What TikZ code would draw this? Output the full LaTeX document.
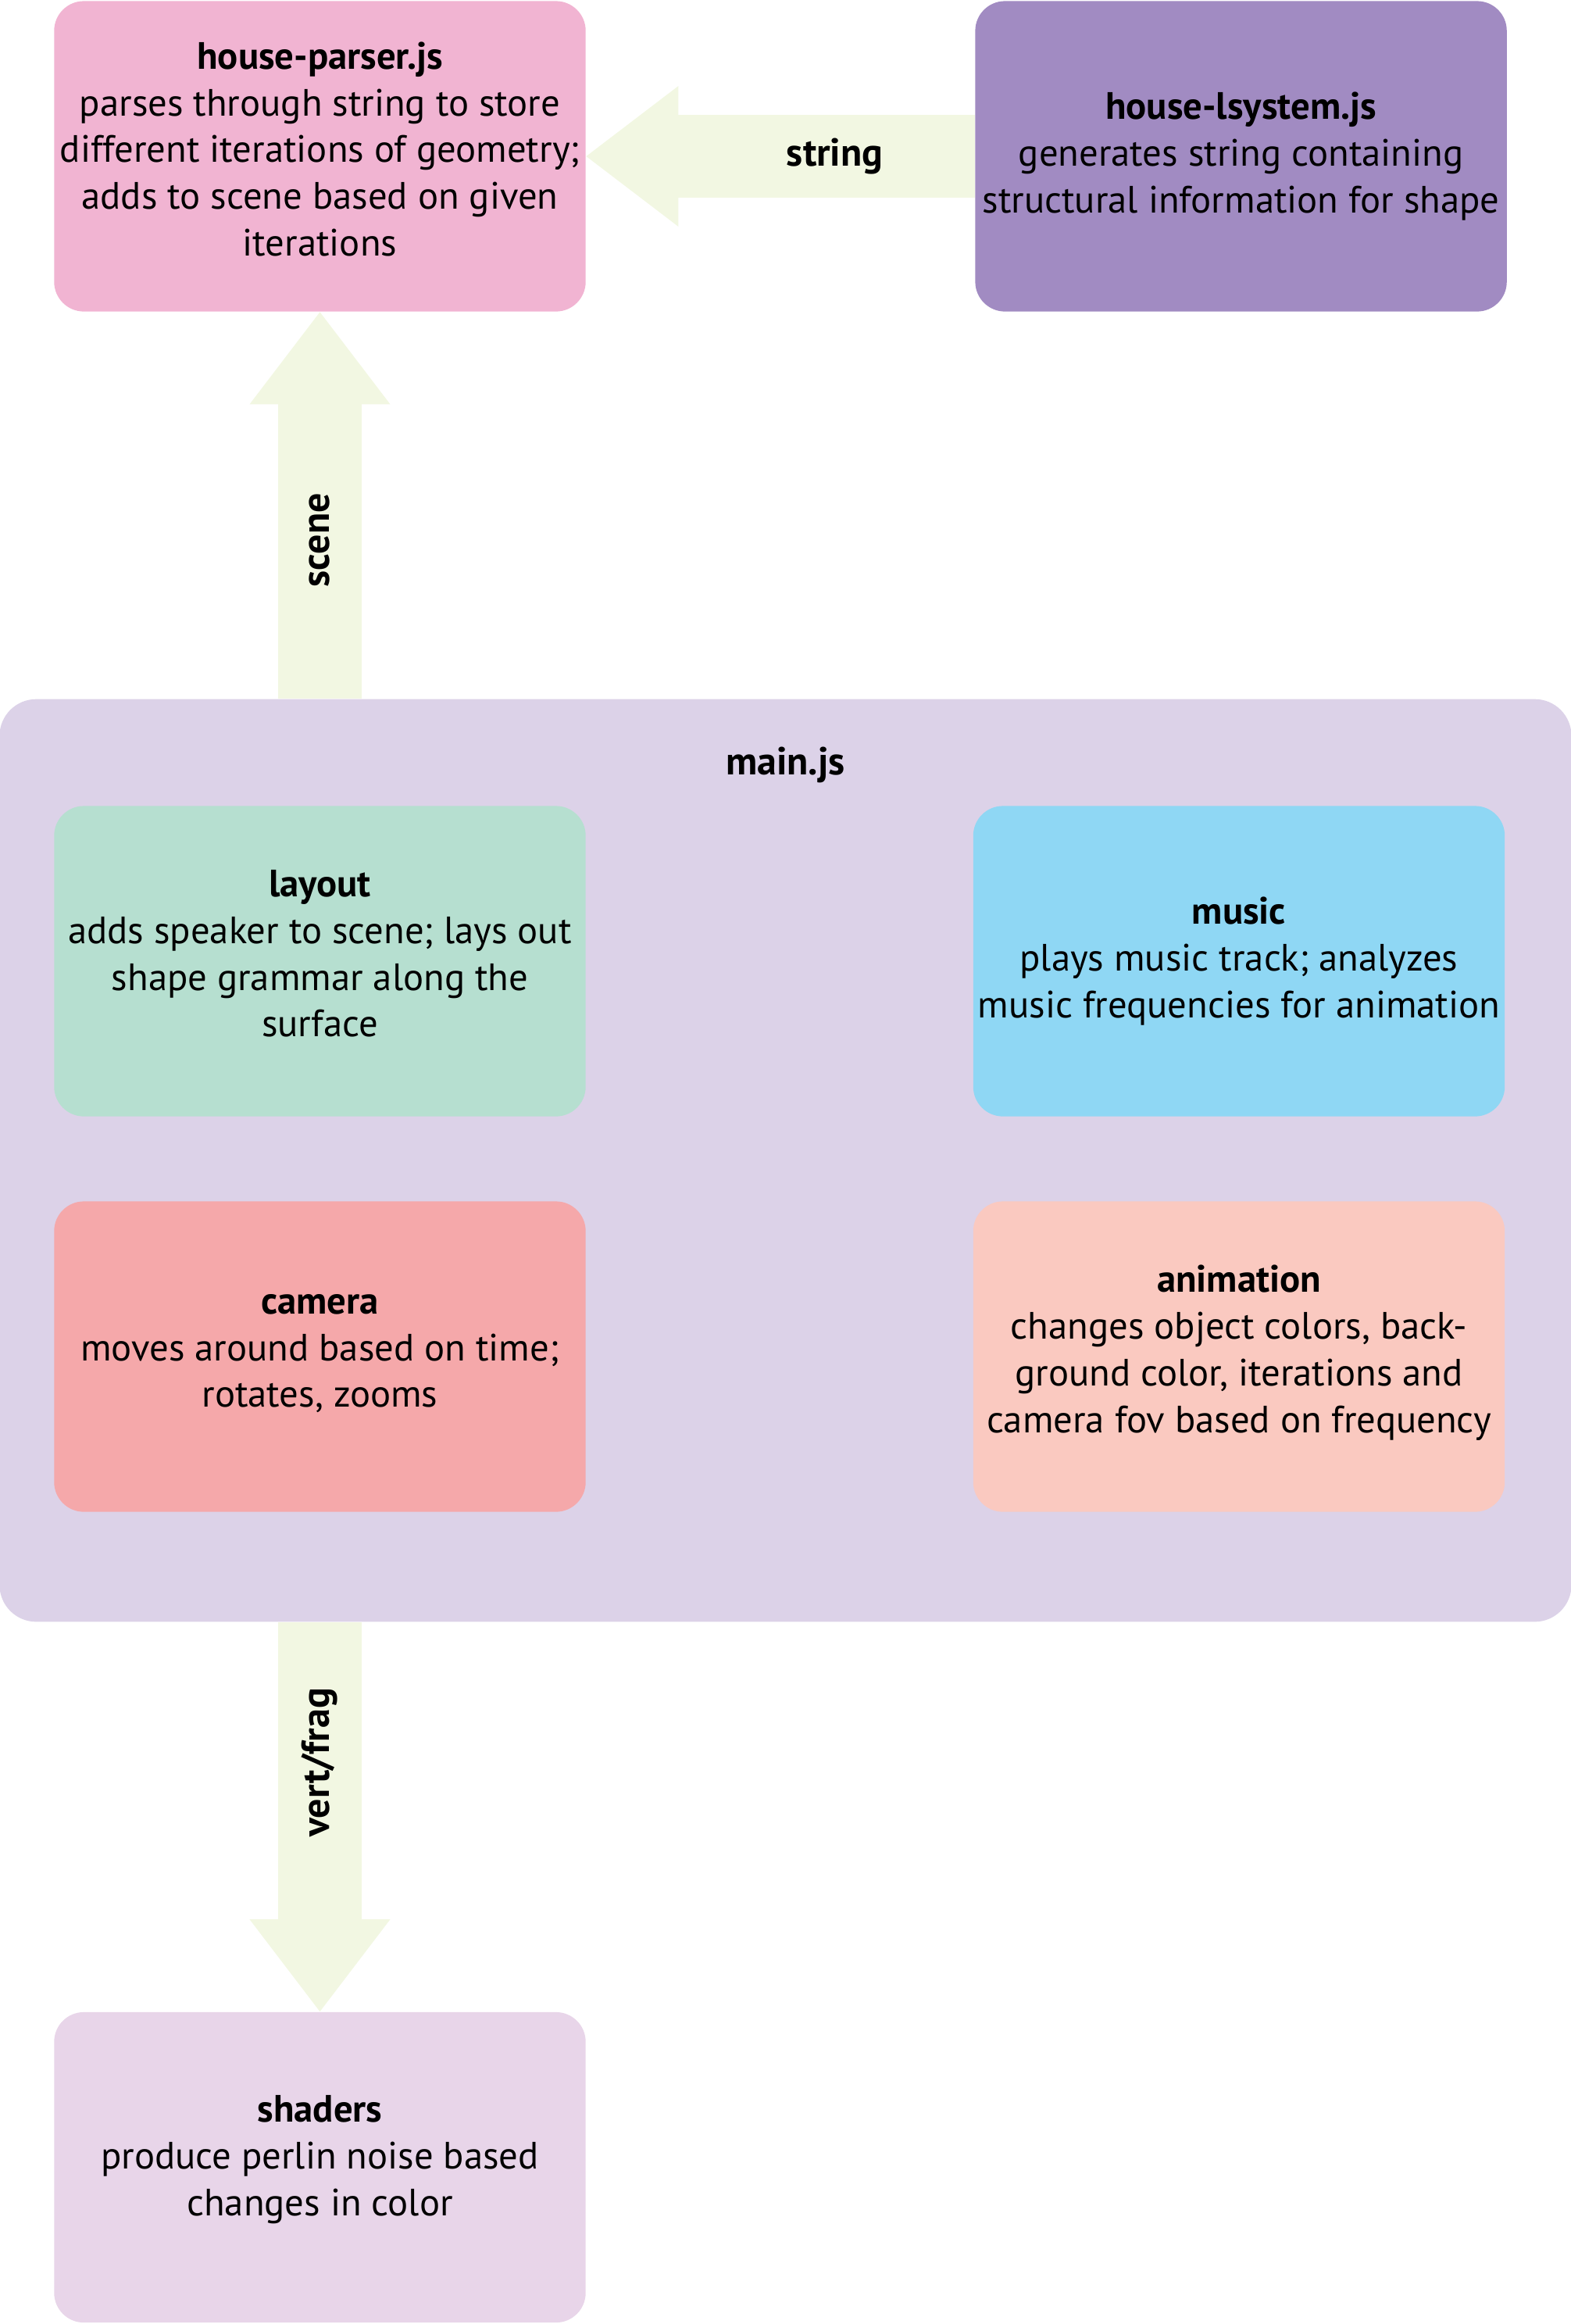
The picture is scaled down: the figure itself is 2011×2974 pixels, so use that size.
\documentclass[tikz,border=0pt]{standalone}
\usepackage{fontspec}
\setmainfont{PT Sans}
\usetikzlibrary{arrows.meta,positioning}

\definecolor{parsercol}{HTML}{F1B4D2}
\definecolor{lsyscol}{HTML}{A18BC2}
\definecolor{maincol}{HTML}{DCD2E8}
\definecolor{layoutcol}{HTML}{B6DFD0}
\definecolor{musiccol}{HTML}{8FD7F4}
\definecolor{cameracol}{HTML}{F5A8AA}
\definecolor{animcol}{HTML}{FAC9C0}
\definecolor{shadercol}{HTML}{E8D5E9}
\definecolor{flowcol}{HTML}{F2F7E2}

\tikzset{
  box/.style={rounded corners=0.38cm, minimum width=6.8cm, minimum height=3.97cm,
    align=center, inner sep=0pt, font=\fontsize{13.85}{17}\selectfont},
  flow/.style={draw=flowcol, line width=1.06cm,
    -{Triangle[length=1.18cm,width=1.8cm,line width=0pt]}},
  flowlabel/.style={font=\bfseries\fontsize{14.2}{17}\selectfont}
}

\begin{document}
\begin{tikzpicture}[x=0.01cm, y=-0.01cm]

\useasboundingbox (0,0) rectangle (2011,2974);

% container
\node[rounded corners=0.47cm, fill=maincol, minimum width=20.11cm, minimum height=11.8cm,
  inner sep=0pt] (main) at (1005.5,1485) {};
\node[flowlabel] (mainjs) at (1005.5,979) {main.js};

% top row
\node[box, fill=parsercol] (parser) at (409.5,200) {\textbf{house-parser.js}\\parses through string to store\\different iterations of geometry;\\adds to scene based on given\\iterations\\[-0.41cm]};
\node[box, fill=lsyscol, right=4.97cm of parser] (lsystem) {\textbf{house-lsystem.js}\\generates string containing\\structural information for shape};

% flows
\draw[flow] (lsystem.west) -- (parser.east) node[flowlabel, pos=0.36] {string};
\draw[flow] (main.north -| parser.south) -- (parser.south) node[flowlabel, pos=0.41, rotate=90] {scene};

% inside main.js
\node[box, fill=layoutcol] (layout) at (409.5,1230) {\textbf{layout}\\adds speaker to scene; lays out\\shape grammar along the\\surface\\[-0.4cm]};
\node[box, fill=musiccol] (music) at (1586,1230) {\textbf{music}\\plays music track; analyzes\\music frequencies for animation};
\node[box, fill=cameracol] (camera) at (409.5,1736) {\textbf{camera}\\moves around based on time;\\rotates, zooms\\[-0.45cm]};
\node[box, fill=animcol] (anim) at (1586,1736) {\textbf{animation}\\changes object colors, back-\\ground color, iterations and\\camera fov based on frequency\\[-0.4cm]};

% bottom
\node[box, fill=shadercol] (shaders) at (409.5,2773.5) {\textbf{shaders}\\produce perlin noise based\\changes in color\\[-0.3cm]};
\draw[flow] (main.south -| shaders.north) -- (shaders.north) node[flowlabel, pos=0.36, rotate=90] {vert/frag};

\end{tikzpicture}
\end{document}
